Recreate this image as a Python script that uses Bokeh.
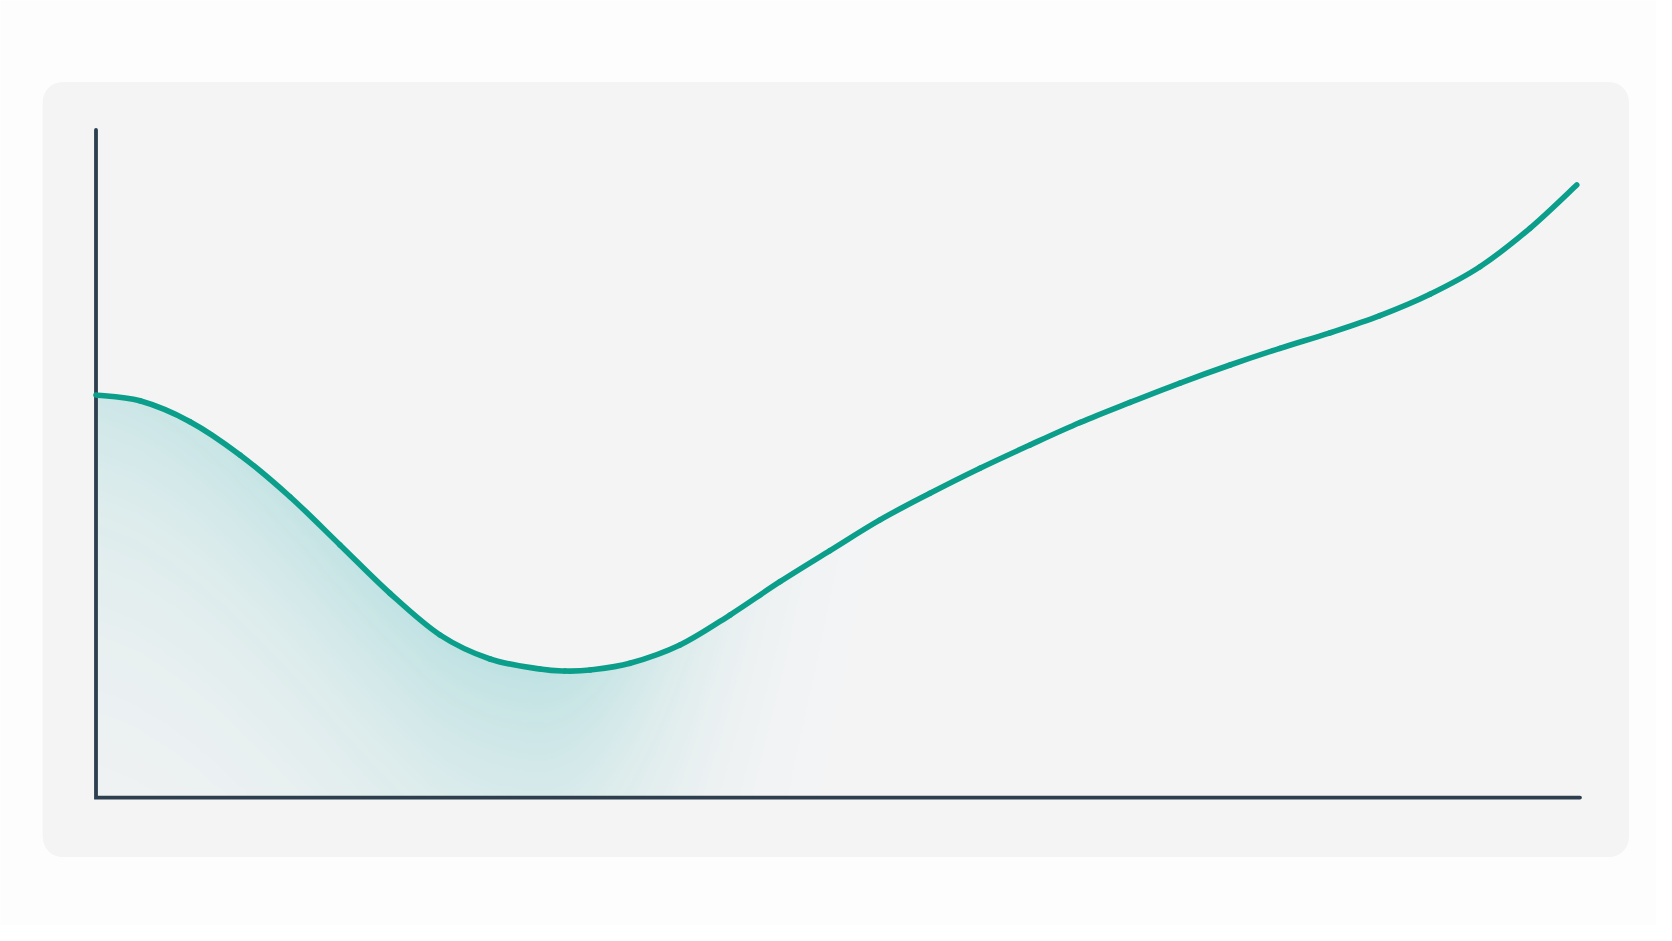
import numpy as np
from bokeh.plotting import figure
from bokeh.models import Range1d, BoxAnnotation
from bokeh.embed import file_html
from bokeh.resources import INLINE

# ---- data (x and y in 0..100 axis units) ----
curve_x = [0.0, 2.96, 6.33, 9.70, 13.07, 16.44, 19.81, 23.18, 26.55, 29.92,
           31.60, 33.29, 35.98, 39.35, 42.72, 46.09, 49.46, 52.83, 56.20,
           59.57, 62.94, 66.31, 69.68, 73.05, 76.42, 79.78, 83.15, 86.52,
           89.89, 93.26, 96.63, 99.78]
curve_y = [60.31, 59.44, 56.31, 51.33, 45.07, 37.85, 30.60, 24.36, 20.76,
           19.26, 18.96, 19.11, 20.12, 22.86, 27.35, 32.34, 37.0, 41.6,
           45.58, 49.33, 52.82, 56.19, 59.2, 62.1, 64.80, 67.30, 69.62,
           72.2, 75.4, 79.52, 85.28, 91.76]
axis_x = [0, 0, 100]
axis_y = [100, 0, 0]

# ---- layout constants (pixels) ----
W, H = 1656, 925
ORIGIN_X, ORIGIN_Y = 95.5, 797.1      # pixel of data (0, 0) inside canvas (from top)
SX, SY = 14.84, 6.676                 # pixels per data unit

x0 = -ORIGIN_X / SX
x1 = (W - ORIGIN_X) / SX
y0 = -(H - ORIGIN_Y) / SY
y1 = ORIGIN_Y / SY

p = figure(width=W, height=H, output_backend="svg", toolbar_location=None,
           x_range=Range1d(x0, x1), y_range=Range1d(y0, y1),
           x_axis_location=None, y_axis_location=None, min_border=0,
           background_fill_color="#fdfdfd", border_fill_color="#fdfdfd",
           outline_line_color=None)
p.grid.grid_line_color = None

# rounded panel
panel = BoxAnnotation(left=-3.59, right=103.3, bottom=-8.9, top=107.2,
                      fill_color="#f4f4f5", fill_alpha=1.0, line_color=None,
                      border_radius=20, level="underlay")
p.add_layout(panel)

# ---- smooth curve: Catmull-Rom -> cubic Bezier segments through every point ----
P = np.column_stack([curve_x, curve_y]).astype(float)
Pm = np.vstack([P[0], P[:-1]])          # previous points
Pn = np.vstack([P[1:], P[-1]])          # next points
Pnn = np.vstack([P[2:], P[-1], P[-1]])  # next-next
A = P[:-1]
B = P[1:]
C1 = A + (Pn[:-1] - Pm[:-1]) / 6.0
C2 = B - (Pnn[:-1] - A) / 6.0

# sampled version of the same Bezier path, used only to clip the glow
t = np.linspace(0, 1, 24)[:, None, None]
pts = ((1 - t) ** 3) * A + 3 * ((1 - t) ** 2) * t * C1 + 3 * (1 - t) * t ** 2 * C2 + t ** 3 * B
pts = pts.transpose(1, 0, 2).reshape(-1, 2)
order = np.argsort(pts[:, 0])
sx_, sy_ = pts[order, 0], pts[order, 1]

# ---- soft teal glow under the left part of the curve ----
GX, GY = 56.0, 66.0
nx, ny = 420, 230
gx = (np.arange(nx) + 0.5) * GX / nx
gy = (np.arange(ny) + 0.5) * GY / ny
XX, YY = np.meshgrid(gx, gy)
top = np.interp(gx, sx_, sy_)[None, :]
depth_px = (top - YY) * SY
xpx = (XX - 29.0) * SX
sig = np.where(xpx < 0, 540.0, 122.0)
g = np.exp(-0.5 * (xpx / sig) ** 2)
alpha = 0.22 * np.exp(-np.clip(depth_px, 0, None) / 210.0) * g
alpha = np.where(depth_px > -1.0, alpha, 0.0)
rgba = np.zeros((ny, nx, 4), dtype=np.uint8)
rgba[..., 0] = 0
rgba[..., 1] = 160
rgba[..., 2] = 158
rgba[..., 3] = np.clip(alpha * 255, 0, 255).astype(np.uint8)
img = rgba.view(dtype=np.uint32).reshape(ny, nx)
p.image_rgba(image=[img], x=0, y=0, dw=GX, dh=GY)

# axes
p.line(axis_x, axis_y, line_color="#2d3e4f", line_width=3.8,
       line_cap="round", line_join="miter")

# curve
p.bezier(x0=A[:, 0], y0=A[:, 1], x1=B[:, 0], y1=B[:, 1],
         cx0=C1[:, 0], cy0=C1[:, 1], cx1=C2[:, 0], cy1=C2[:, 1],
         line_color="#0b9f8b", line_width=5.6, line_cap="round")

open("out.html", "w").write(file_html(p, INLINE))
